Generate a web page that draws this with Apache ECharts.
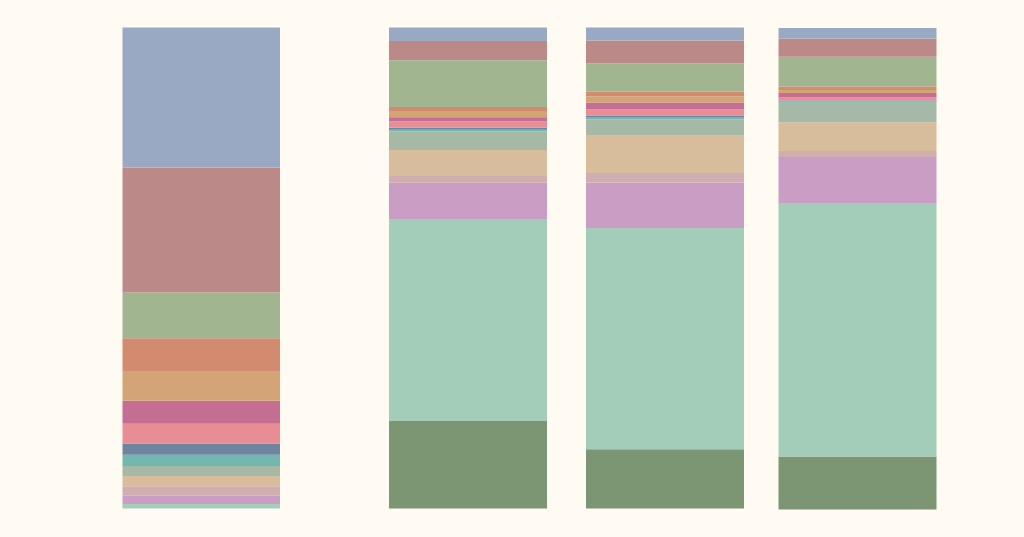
<!DOCTYPE html>
<html>
<head>
<meta charset="utf-8">
<script src="https://cdn.jsdelivr.net/npm/echarts@6/dist/echarts.min.js"></script>
<style>
  html, body { margin: 0; padding: 0; background: #fffbf3; }
  #main { width: 1024px; height: 537px; }
</style>
</head>
<body>
<div id="main"></div>
<script>
var columns = ['A', 'B', 'C', 'D'];

// share of each band per column, in percent, bottom band first
var olive     = [0, 18.2, 12.3, 11.0];
var mint      = [0.95, 42.0, 46.0, 52.5];
var lilac     = [1.7, 7.5, 9.45, 9.7];
var dustyPink = [2.0, 1.45, 2.0, 1.25];
var tan       = [2.1, 5.4, 7.9, 5.95];
var grayGreen = [2.1, 3.9, 3.3, 4.1];
var teal      = [2.3, 0.27, 0.42, 0.27];
var slate     = [2.35, 0.42, 0.35, 0.15];
var pink      = [4.1, 1.3, 1.25, 0.62];
var magenta   = [4.8, 0.9, 1.45, 0.98];
var tanOrange = [6.2, 1.3, 1.25, 0.62];
var orange    = [6.8, 0.83, 0.98, 0.7];
var green     = [9.5, 9.7, 5.9, 6.2];
var red       = [26.0, 4.0, 4.75, 3.8];
var blue      = [29.1, 2.85, 2.85, 2.27];

var bands = [
  {name: 'olive', data: olive, color: '#7c9572'},
  {name: 'mint', data: mint, color: '#a3cdb9'},
  {name: 'lilac', data: lilac, color: '#ca9ec4'},
  {name: 'dustyPink', data: dustyPink, color: '#d0adaf'},
  {name: 'tan', data: tan, color: '#d8bd9c'},
  {name: 'grayGreen', data: grayGreen, color: '#a5b9a6'},
  {name: 'teal', data: teal, color: '#72b8b0'},
  {name: 'slate', data: slate, color: '#6f849f'},
  {name: 'pink', data: pink, color: '#e88d94'},
  {name: 'magenta', data: magenta, color: '#c56e93'},
  {name: 'tanOrange', data: tanOrange, color: '#d3a576'},
  {name: 'orange', data: orange, color: '#d38b6f'},
  {name: 'green', data: green, color: '#a1b690'},
  {name: 'red', data: red, color: '#bb8a88'},
  {name: 'blue', data: blue, color: '#9aa9c3'}
];

// one grid per column, the columns are not evenly spaced
var gridBoxes = [
  {left: 122.5, width: 157.5, top: 27.5, height: 481},
  {left: 389, width: 158, top: 27.5, height: 481},
  {left: 586, width: 158, top: 27.5, height: 481},
  {left: 778.5, width: 158, top: 28, height: 481.5}
];

var grids = [], xAxes = [], yAxes = [], series = [];
columns.forEach(function (col, c) {
  grids.push(gridBoxes[c]);
  xAxes.push({gridIndex: c, type: 'category', data: [col], show: false});
  yAxes.push({gridIndex: c, type: 'value', min: 0, max: 100, show: false});
  bands.forEach(function (b) {
    series.push({
      name: b.name,
      type: 'bar',
      stack: 'col' + c,
      xAxisIndex: c,
      yAxisIndex: c,
      barWidth: '100%',
      itemStyle: {color: b.color},
      data: [b.data[c]]
    });
  });
});

var chart = echarts.init(document.getElementById('main'));
chart.setOption({
  backgroundColor: '#fffbf3',
  animation: false,
  grid: grids,
  xAxis: xAxes,
  yAxis: yAxes,
  series: series
});
</script>
</body>
</html>
